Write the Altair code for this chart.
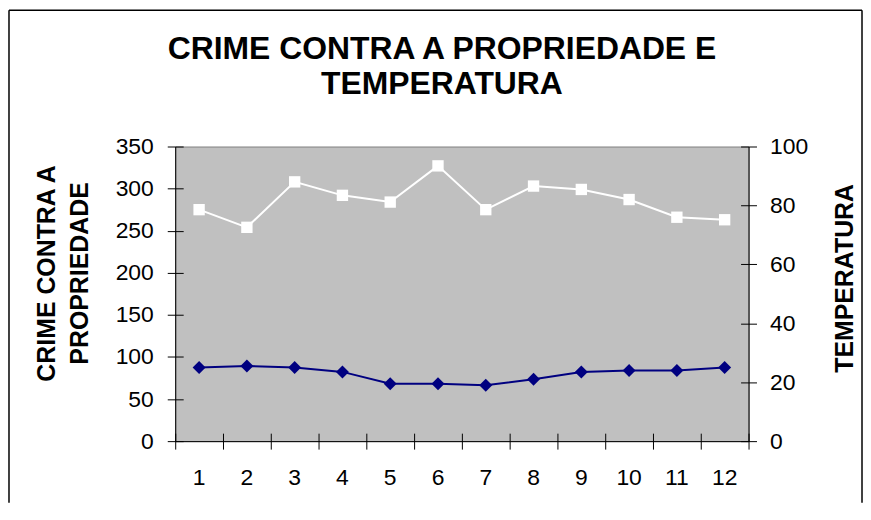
import altair as alt
import pandas as pd

# ---- data ----
months = list(range(1, 13))
crime = [275, 254, 308, 292, 284, 327, 275, 303, 299, 287, 266, 263]
temperature = [25, 25.5, 25, 23.5, 19.5, 19.5, 19, 21, 23.5, 24, 24, 25]
crime_ticks = [0, 50, 100, 150, 200, 250, 300, 350]
temp_ticks = [0, 20, 40, 60, 80, 100]
title_lines = ["CRIME CONTRA A PROPRIEDADE E", "TEMPERATURA"]
left_title = ["CRIME CONTRA A", "PROPRIEDADE"]
right_title = "TEMPERATURA"

df = pd.DataFrame({"mes": months, "crime": crime, "temp": temperature})
one = pd.DataFrame({"k": [0]})

FONT = "Liberation Sans"
LBL = 23

xscale = alt.Scale(type="band", paddingInner=0, paddingOuter=0)
x_main = alt.X("mes:O", scale=xscale, bandPosition=0.5, title=None,
               axis=alt.Axis(orient="bottom", ticks=False, tickSize=0, labelPadding=26,
                             labelAngle=0, domainColor="black", labelFontSize=LBL))
x_tick = alt.X("mes:O", scale=xscale, bandPosition=0.5, title=None,
               axis=alt.Axis(orient="bottom", labels=False, domain=False, tickBand="extent",
                             offset=-8, tickSize=16, tickColor="black"))
x_none = alt.X("mes:O", scale=xscale, bandPosition=0.5, axis=None)

cscale = alt.Scale(domain=[0, 350], nice=False)
tscale = alt.Scale(domain=[0, 100], nice=False)

y_crime_main = alt.Y("crime:Q", scale=cscale,
                     axis=alt.Axis(orient="left", values=crime_ticks, ticks=False, tickSize=0,
                                   labelPadding=22, grid=False, domainColor="black",
                                   labelFontSize=LBL, title=left_title, titleFontSize=25,
                                   titleFontWeight="bold", titleAngle=270, titleX=-121, titleY=127,
                                   titleAlign="center", titleBaseline="alphabetic",
                                   titleLineHeight=33))
y_crime_tick = alt.Y("crime:Q", scale=cscale,
                     axis=alt.Axis(orient="left", values=crime_ticks, labels=False, domain=False,
                                   offset=-8, tickSize=16, tickColor="black", grid=False, title=None))
y_temp_main = alt.Y("temp:Q", scale=tscale,
                    axis=alt.Axis(orient="right", values=temp_ticks, ticks=False, tickSize=0,
                                  labelPadding=21, grid=False, domainColor="black",
                                  labelFontSize=LBL, title=right_title, titleFontSize=25,
                                  titleFontWeight="bold", titleAngle=270, titleX=104, titleY=132,
                                  titleAlign="center", titleBaseline="alphabetic"))
y_temp_tick = alt.Y("temp:Q", scale=tscale,
                    axis=alt.Axis(orient="right", values=temp_ticks, labels=False, domain=False,
                                  offset=-8, tickSize=16, tickColor="black", grid=False, title=None))

base = alt.Chart(df)

crime_line = base.mark_line(color="white", strokeWidth=2).encode(x=x_main, y=y_crime_main)
crime_pts = base.mark_point(shape="square", filled=True, color="white", size=130,
                            opacity=1).encode(x=x_tick, y=y_crime_tick)
temp_line = base.mark_line(color="#000080", strokeWidth=2).encode(x=x_none, y=y_temp_main)
temp_pts = base.mark_point(shape="diamond", filled=True, color="#000080", size=170,
                           opacity=1).encode(x=x_none, y=y_temp_tick)

# outer chart-area border (decoration)
fr = alt.Chart(one)
f_left = fr.mark_rule(color="black", strokeWidth=1.5).encode(
    x=alt.value(-167), y=alt.value(-137), y2=alt.value(358))
f_top = fr.mark_rule(color="black", strokeWidth=1.5).encode(
    x=alt.value(-167), x2=alt.value(690), y=alt.value(-137))
f_right = fr.mark_rule(color="black", strokeWidth=1.5).encode(
    x=alt.value(690), y=alt.value(-137), y2=alt.value(358))

chart = (
    alt.layer(f_left, f_top, f_right, crime_line, crime_pts, temp_line, temp_pts)
    .resolve_scale(y="independent")
    .resolve_axis(x="independent")
    .properties(
        width=576, height=296, padding=0,
        title=alt.Title(title_lines, fontSize=32, fontWeight="bold", font=FONT,
                        lineHeight=35, anchor="middle", frame="group", dx=-20,
                        offset=-92, color="black"),
    )
    .configure_view(fill="#C0C0C0", stroke="#808080", strokeWidth=1)
    .configure_axis(labelFont=FONT, titleFont=FONT, labelColor="black", titleColor="black",
                    domainColor="black", tickColor="black", domainWidth=1, tickWidth=1)
)

chart.save("out.html", embed_options={"renderer": "svg", "actions": False})
